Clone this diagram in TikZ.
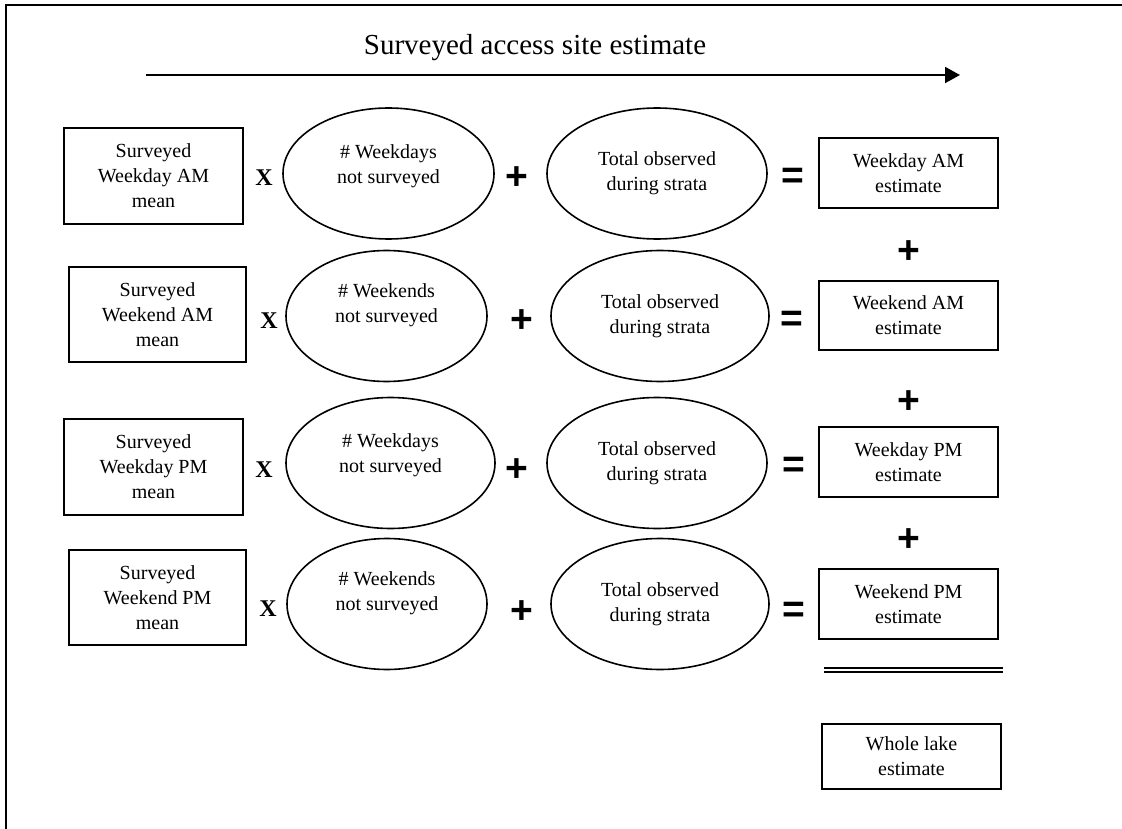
\documentclass[tikz,border=0pt]{standalone}
\usepackage{fontspec}
\setmainfont{Liberation Serif}
\newfontfamily\opfont{Liberation Sans}
\usepackage{tikz}
\usetikzlibrary{shapes.geometric,arrows.meta}

\begin{document}
\begin{tikzpicture}[x=1pt,y=-1pt]
\tikzstyle{txt}=[font=\fontsize{20}{25}\selectfont, align=center]
\tikzstyle{meanbox}=[txt, rectangle, draw=black, line width=1.8pt, minimum width=179pt, minimum height=96pt, inner sep=0pt]
\tikzstyle{estbox}=[meanbox, minimum height=70pt]
\tikzstyle{oval}=[txt, ellipse, draw=black, line width=1.6pt, minimum height=131pt, inner sep=0pt]
\tikzstyle{times}=[font=\fontsize{24}{24}\bfseries\selectfont, inner sep=0pt]
\tikzstyle{op}=[font=\fontsize{39}{39}\opfont\bfseries\selectfont, inner sep=0pt]
\tikzstyle{daylabel}=[align=center, font=\fontsize{20}{25}\selectfont]
\useasboundingbox (0,0) rectangle (1122,829);
  % frame
  \coordinate (fl) at (6,829);
  \coordinate (fc) at (6,5);
  \coordinate (fr) at (1122,5);
  \draw[line width=1.5pt] (fl) -- (fc) -- (fr);
  % title
  \node[font=\fontsize{29}{29}\selectfont] (title) at (535,48) {Surveyed access site estimate};
  \coordinate (as) at (146,75);
  \coordinate (ae) at (960,75);
  \draw[line width=2pt, -{Triangle[length=15pt,width=16pt]}] (as) -- (ae);
  % weekday AM
  \node[meanbox] (m1) at (153.5,176) {Surveyed\\Weekday AM\\mean};
  \node[times] (x1) at (264,178) {X};
  \node[oval, minimum width=211pt, label={[daylabel,yshift=7pt]center:\# Weekdays\\not surveyed}] (n1) at (388.5,173.5) {};
  \node[op] (p1) at (517,178) {+};
  \node[oval, minimum width=220pt] (t1) at (657,173.5) {Total observed\\during strata};
  \node[op] (q1) at (793,178) {=};
  \node[estbox] (r1) at (908.5,173) {Weekday AM\\estimate};
  % weekend AM
  \node[meanbox, minimum width=177pt, minimum height=95pt] (m2) at (157.5,314.5) {Surveyed\\Weekend AM\\mean};
  \node[times] (x2) at (269,321) {X};
  \node[oval, minimum width=201pt, label={[daylabel,yshift=11pt]center:\# Weekends\\not surveyed}] (n2) at (386.5,316) {};
  \node[op] (p2) at (522,321) {+};
  \node[oval, minimum width=218pt] (t2) at (660,316) {Total observed\\during strata};
  \node[op] (q2) at (792,321) {=};
  \node[estbox, minimum height=69pt] (r2) at (908.5,315.5) {Weekend AM\\estimate};
  % weekday PM
  \node[meanbox] (m3) at (153.5,467) {Surveyed\\Weekday PM\\mean};
  \node[times] (x3) at (264,470) {X};
  \node[oval, minimum width=209pt, label={[daylabel,yshift=8pt]center:\# Weekdays\\not surveyed}] (n3) at (390.5,463) {};
  \node[op] (p3) at (517,470) {+};
  \node[oval, minimum width=220pt] (t3) at (657,463) {Total observed\\during strata};
  \node[op] (q3) at (794,467) {=};
  \node[estbox] (r3) at (908.5,462) {Weekday PM\\estimate};
  % weekend PM
  \node[meanbox, minimum width=177pt, minimum height=95pt] (m4) at (157.5,597.5) {Surveyed\\Weekend PM\\mean};
  \node[times] (x4) at (268,609) {X};
  \node[oval, minimum width=200pt, label={[daylabel,yshift=11pt]center:\# Weekends\\not surveyed}] (n4) at (387,604) {};
  \node[op] (p4) at (522,612) {+};
  \node[oval, minimum width=218pt] (t4) at (660,604) {Total observed\\during strata};
  \node[op] (q4) at (794,612) {=};
  \node[estbox] (r4) at (908.5,604) {Weekend PM\\estimate};
  % sum
  \node[op] (s1) at (909,252) {+};
  \node[op] (s2) at (909,402) {+};
  \node[op] (s3) at (909,540) {+};
  \coordinate (dl) at (824,670);
  \coordinate (dr) at (1003,670);
  \draw[line width=2pt, double, double distance=2.5pt] (dl) -- (dr);
  \node[estbox, minimum height=65pt] (w) at (911.5,756.5) {Whole lake\\estimate};
\end{tikzpicture}
\end{document}
